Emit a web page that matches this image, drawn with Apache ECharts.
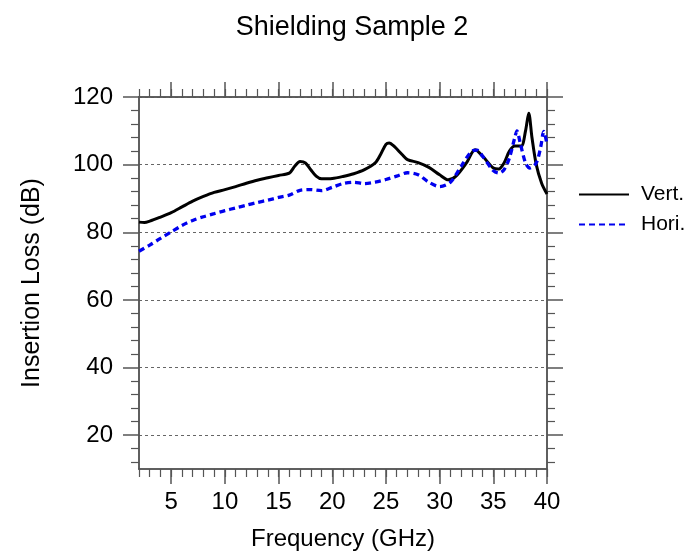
<!DOCTYPE html>
<html>
<head>
<meta charset="utf-8">
<script src="https://cdn.jsdelivr.net/npm/echarts@6/dist/echarts.min.js"></script>
<style>
  html, body { margin: 0; padding: 0; background: #fff; }
  #chart { width: 700px; height: 553px; }
</style>
</head>
<body>
<div id="chart"></div>
<script>
// frequency (GHz) and insertion loss (dB)
var vertFreq = [2, 2.5, 3, 4, 5, 6, 7, 8, 9, 10, 11, 12, 13, 14, 15, 16, 16.5, 17, 17.5, 18, 18.5, 19, 20, 21, 22, 23, 24, 24.5, 25, 25.3, 25.8, 26.5, 27, 28, 29, 30, 30.8, 31.5, 32.5, 33.3, 34, 35, 35.5, 36, 36.5, 37, 37.6, 38, 38.3, 38.6, 39, 39.5, 40];
var vertLoss = [83.0, 82.9, 83.3, 84.5, 85.8, 87.5, 89.2, 90.6, 91.8, 92.6, 93.5, 94.5, 95.4, 96.1, 96.8, 97.5, 99.5, 100.9, 100.5, 98.5, 96.6, 95.8, 95.9, 96.5, 97.3, 98.5, 100.5, 103, 106, 106.4, 105.3, 103, 101.5, 100.6, 99.2, 97, 95.5, 96.5, 100.5, 104.4, 102.5, 99, 98.7, 100.5, 104, 105.5, 105.5, 110, 115.2, 108, 100, 94.5, 91.3];

var horiFreq = [2, 3, 4, 5, 6, 7, 8, 9, 10, 11, 12, 13, 14, 15, 16, 17, 18, 19, 20, 21, 22, 23, 24, 25, 26, 27, 28, 29, 30, 31, 32, 33, 33.5, 34, 35, 35.5, 36, 36.5, 37, 37.2, 37.5, 38, 38.4, 39, 39.4, 39.7, 40];
var horiLoss = [74.4, 76.2, 78.2, 80.1, 82, 83.5, 84.6, 85.5, 86.4, 87.2, 88, 88.8, 89.5, 90.3, 91, 92.4, 92.6, 92.3, 93.3, 94.4, 94.8, 94.4, 94.8, 95.6, 96.6, 97.6, 97, 94.8, 93.5, 94.8, 99.5, 104, 104.3, 102.5, 98.2, 97.5, 98.5, 102, 108, 110, 106.5, 100.5, 99, 100.5, 105, 109.8, 106];

var xMajor = [5, 10, 15, 20, 25, 30, 35, 40];
var yMajor = [20, 40, 60, 80, 100, 120];
var yMinor = [12, 16, 24, 28, 32, 36, 44, 48, 52, 56, 64, 68, 72, 76, 84, 88, 92, 96, 104, 108, 112, 116];

function pairs(xs, ys) {
  return xs.map(function(x, i) { return [x, ys[i]]; });
}

var font = 'Liberation Sans';
var frame = '#555';

function xAx(pos, major, withLabel) {
  var a = {
    type: 'value', position: pos, min: 2, max: 40,
    axisLine: { show: true, onZero: false, lineStyle: { color: frame, width: 1.5 } },
    splitLine: { show: false },
    axisLabel: { show: false }
  };
  if (major) {
    a.axisTick = { show: true, customValues: xMajor, length: 15, lineStyle: { color: frame, width: 1.5 } };
  } else {
    a.interval = 1;
    a.axisTick = { show: true, length: 8, lineStyle: { color: frame, width: 1.2 } };
  }
  if (withLabel) {
    a.axisLabel = { show: true, customValues: xMajor, color: '#000', fontFamily: font, fontSize: 24, margin: 21 };
    a.name = 'Frequency (GHz)';
    a.nameLocation = 'middle';
    a.nameGap = 58;
    a.nameTextStyle = { color: '#000', fontFamily: font, fontSize: 24 };
  }
  return a;
}

function yAx(pos, major, withLabel) {
  var a = {
    type: 'value', position: pos, min: 10, max: 120,
    axisLine: { show: true, onZero: false, lineStyle: { color: frame, width: 1.5 } },
    splitLine: { show: false },
    axisLabel: { show: false }
  };
  if (major) {
    a.axisTick = { show: true, customValues: yMajor, length: 16, lineStyle: { color: frame, width: 1.5 } };
  } else {
    a.axisTick = { show: true, customValues: yMinor, length: 8, lineStyle: { color: frame, width: 1.2 } };
  }
  if (withLabel) {
    a.axisLabel = { show: true, customValues: yMajor, color: '#000', fontFamily: font, fontSize: 24, margin: 26 };
    a.splitLine = { show: true, lineStyle: { color: '#666', width: 1, type: [3, 3] } };
    a.name = 'Insertion Loss (dB)';
    a.nameLocation = 'middle';
    a.nameGap = 94;
    a.nameTextStyle = { color: '#000', fontFamily: font, fontSize: 25 };
  }
  return a;
}

var chart = echarts.init(document.getElementById('chart'), null, { renderer: 'canvas' });
chart.setOption({
  animation: false,
  backgroundColor: '#fff',
  title: {
    text: 'Shielding Sample 2',
    left: 347, top: 9, textAlign: 'center',
    textStyle: { color: '#000', fontFamily: font, fontSize: 27, fontWeight: 'normal' }
  },
  legend: {
    orient: 'vertical',
    left: 573, top: 179,
    itemWidth: 50, itemHeight: 20, itemGap: 9,
    itemStyle: { opacity: 0 },
    textStyle: { color: '#000', fontFamily: font, fontSize: 21, padding: [0, 0, 0, 7] },
    data: ['Vert.', 'Hori.']
  },
  grid: { left: 139, right: 153, top: 97, bottom: 84, containLabel: false, outerBoundsMode: 'none' },
  xAxis: [xAx('bottom', true, true), xAx('bottom', false, false), xAx('top', true, false), xAx('top', false, false)],
  yAxis: [yAx('left', true, true), yAx('left', false, false), yAx('right', true, false), yAx('right', false, false)],
  series: [
    {
      name: 'Vert.', type: 'line', smooth: 0.3, symbol: 'none',
      data: pairs(vertFreq, vertLoss),
      lineStyle: { color: '#000', width: 3 },
      itemStyle: { color: '#000' }
    },
    {
      name: 'Hori.', type: 'line', smooth: 0.3, symbol: 'none',
      data: pairs(horiFreq, horiLoss),
      lineStyle: { color: '#0000ee', width: 3.3, type: [6, 4] },
      itemStyle: { color: '#0000ee' }
    }
  ]
});
</script>
</body>
</html>
